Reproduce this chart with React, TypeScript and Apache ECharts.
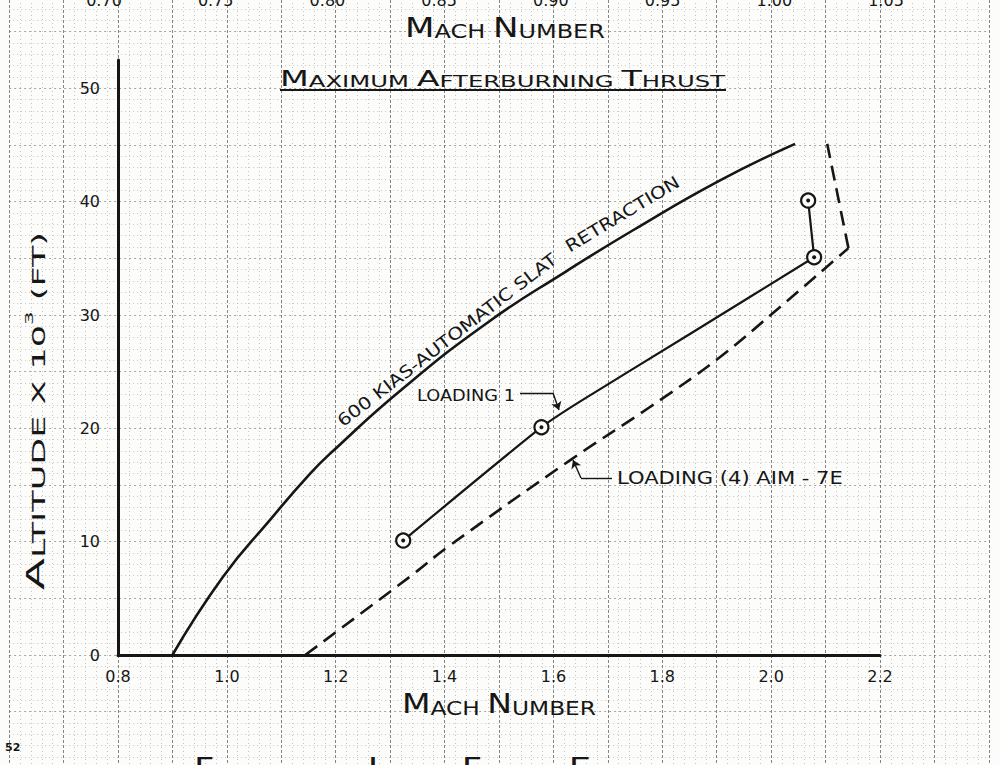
import React, { useEffect, useRef } from "react";
import * as echarts from "echarts";

// ---------- data ----------
const xTickLabels = ["0.8", "1.0", "1.2", "1.4", "1.6", "1.8", "2.0", "2.2"];
const yTickLabels = ["0", "10", "20", "30", "40", "50"];
const topTickLabels = ["0.70", "0.75", "0.80", "0.85", "0.90", "0.95", "1.00", "1.05"];

// 600 KIAS - automatic slat retraction (solid)
const kiasMach = [0.9, 0.993, 1.079, 1.153, 1.195, 1.318, 1.478, 1.625, 1.747, 1.907, 2.044];
const kiasAlt = [0, 6.9, 11.9, 16.0, 18.0, 23.3, 29.3, 33.9, 37.5, 41.9, 45.1];

// Loading 1 (solid with test points)
const load1Mach = [1.324, 1.578, 1.65, 1.85, 2.079];
const load1Alt = [10.1, 20.1, 22.4, 28.3, 35.1];
const load1TopMach = [2.079, 2.068];
const load1TopAlt = [35.1, 40.1];
const load1PtMach = [1.324, 1.578, 2.079, 2.068];
const load1PtAlt = [10.1, 20.1, 35.1, 40.1];

// Loading (4) AIM-7E (dashed)
const aimMach = [1.144, 1.336, 1.405, 1.631, 1.778, 1.901, 2.004, 2.142];
const aimAlt = [0, 6.9, 9.5, 17.2, 21.9, 26.1, 30.2, 35.9];
const aimTopMach = [2.142, 2.103];
const aimTopAlt = [35.9, 45.1];

// leader lines (Mach, altitude)
const leader1Mach = [1.5386, 1.5992, 1.6102];
const leader1Alt = [23.12, 23.12, 21.62];
const leader2Mach = [1.7076, 1.6506, 1.636];
const leader2Alt = [15.62, 15.62, 17.2];

// annotation anchors (Mach, altitude)
const annoText = ["600 KIAS-AUTOMATIC SLAT", "RETRACTION", "LOADING 1", "LOADING (4) AIM - 7E"];
const annoMach = [1.4045, 1.7265, 1.4393, 1.9242];
const annoAlt = [27.8, 38.9, 22.94, 15.62];

const FONT = "DejaVu Sans";
const INK = "#161616";
const PAPER = "#fcfcfa";

const pairs = (xs: number[], ys: number[]) => xs.map((x, i) => [x, ys[i]]);

const measureCtx = document.createElement("canvas").getContext("2d") as CanvasRenderingContext2D;

type Seg = [string, string];

function richText(
  segs: Seg[],
  sizes: Record<string, number>,
  target: number,
  cx: number,
  cy: number,
  rotDeg = 0,
  z = 10
) {
  let natural = 0;
  for (const [t, k] of segs) {
    measureCtx.font = `${sizes[k]}px "${FONT}"`;
    natural += measureCtx.measureText(t).width;
  }
  const rich: Record<string, any> = {};
  for (const k of Object.keys(sizes)) {
    rich[k] = {
      fontSize: sizes[k],
      fontFamily: FONT,
      fill: INK,
      verticalAlign: k === "sup" ? "top" : "bottom",
    };
  }
  return {
    type: "text",
    x: cx,
    y: cy,
    rotation: (rotDeg * Math.PI) / 180,
    scaleX: target / natural,
    silent: true,
    z,
    style: {
      text: segs.map(([t, k]) => `{${k}|${t}}`).join(""),
      rich,
      align: "center",
      verticalAlign: "middle",
      fill: INK,
      fontFamily: FONT,
    },
  };
}

export default function App() {
  const ref = useRef<HTMLDivElement>(null);

  useEffect(() => {
    const chart = echarts.init(ref.current as HTMLDivElement, null, { renderer: "svg" });

    const labelStyle = { fontSize: 16, color: INK, fontFamily: FONT };

    const option: any = {
      animation: false,
      backgroundColor: PAPER,
      grid: [
        { left: 118, right: 120, top: 60, bottom: 110, outerBoundsMode: "none", containLabel: false },
        { left: 9.14, right: 11.14, top: -25, bottom: -3.3, outerBoundsMode: "none", containLabel: false },
        { left: 104, right: 114, top: -100, bottom: 781, outerBoundsMode: "none", containLabel: false },
      ],
      xAxis: [
        {
          gridIndex: 0,
          type: "value",
          min: 0.8,
          max: 2.2,
          interval: 0.2,
          axisLine: { show: true, lineStyle: { color: INK, width: 3 } },
          axisTick: { show: false },
          splitLine: { show: false },
          axisLabel: {
            ...labelStyle,
            margin: 13,
            formatter: (v: number) => xTickLabels[Math.round((v - 0.8) / 0.2)] ?? "",
          },
        },
        {
          gridIndex: 1,
          type: "value",
          min: 0.6,
          max: 2.4,
          interval: 0.1,
          axisLine: { show: false },
          axisTick: { show: false },
          axisLabel: { show: false },
          splitLine: { show: true, lineStyle: { color: "#5e5e5e", width: 1, type: [3, 2], opacity: 0.75 } },
          minorTick: { show: false, splitNumber: 5 },
          minorSplitLine: { show: true, lineStyle: { color: "#b5b5b5", width: 1, type: [1, 3], opacity: 0.8 } },
        },
        {
          gridIndex: 2,
          type: "value",
          min: 0.7,
          max: 1.05,
          interval: 0.05,
          axisLine: { show: false },
          axisTick: { show: false },
          splitLine: { show: false },
          axisLabel: {
            ...labelStyle,
            margin: 8,
            formatter: (v: number) => topTickLabels[Math.round((v - 0.7) / 0.05)] ?? "",
          },
        },
      ],
      yAxis: [
        {
          gridIndex: 0,
          type: "value",
          min: 0,
          max: 52.5,
          interval: 10,
          axisLine: { show: true, lineStyle: { color: INK, width: 3 } },
          axisTick: { show: false },
          splitLine: { show: false },
          axisLabel: {
            ...labelStyle,
            margin: 18,
            showMaxLabel: false,
            formatter: (v: number) => (v % 10 === 0 ? yTickLabels[v / 10] ?? "" : ""),
          },
        },
        {
          gridIndex: 1,
          type: "value",
          min: -10,
          max: 60,
          interval: 5,
          axisLine: { show: false },
          axisTick: { show: false },
          axisLabel: { show: false },
          splitLine: { show: true, lineStyle: { color: "#808080", width: 1, type: [2, 3], opacity: 0.7 } },
          minorTick: { show: false, splitNumber: 5 },
          minorSplitLine: { show: true, lineStyle: { color: "#bdbdbd", width: 1, type: [1, 3], opacity: 0.8 } },
        },
        { gridIndex: 2, type: "value", show: false, min: 0, max: 1 },
      ],
      series: [
        {
          name: "600 KIAS",
          type: "line",
          xAxisIndex: 0,
          yAxisIndex: 0,
          smooth: 0.5,
          showSymbol: false,
          silent: true,
          lineStyle: { color: INK, width: 2.6 },
          data: pairs(kiasMach, kiasAlt),
          z: 4,
        },
        {
          name: "Loading 1",
          type: "line",
          xAxisIndex: 0,
          yAxisIndex: 0,
          smooth: 0.2,
          showSymbol: false,
          silent: true,
          lineStyle: { color: INK, width: 2.2 },
          data: pairs(load1Mach, load1Alt),
          z: 4,
          markLine: {
            silent: true,
            symbol: ["none", "none"],
            label: { show: false },
            lineStyle: { color: INK, width: 1.4, type: "solid" },
            data: [
              [
                { coord: [leader1Mach[0], leader1Alt[0]] },
                { coord: [leader1Mach[1], leader1Alt[1]] },
              ],
              [
                { coord: [leader1Mach[1], leader1Alt[1]] },
                { coord: [leader1Mach[2], leader1Alt[2]], symbol: "arrow", symbolSize: 8 },
              ],
              [
                { coord: [leader2Mach[0], leader2Alt[0]] },
                { coord: [leader2Mach[1], leader2Alt[1]] },
              ],
              [
                { coord: [leader2Mach[1], leader2Alt[1]] },
                { coord: [leader2Mach[2], leader2Alt[2]], symbol: "arrow", symbolSize: 8 },
              ],
            ],
          },
        },
        {
          name: "Loading 1 top",
          type: "line",
          xAxisIndex: 0,
          yAxisIndex: 0,
          showSymbol: false,
          silent: true,
          lineStyle: { color: INK, width: 2.2 },
          data: pairs(load1TopMach, load1TopAlt),
          z: 4,
        },
        {
          name: "AIM-7E",
          type: "line",
          xAxisIndex: 0,
          yAxisIndex: 0,
          smooth: 0.4,
          showSymbol: false,
          silent: true,
          lineStyle: { color: INK, width: 2.6, type: [15, 8] },
          data: pairs(aimMach, aimAlt),
          z: 4,
        },
        {
          name: "AIM-7E top",
          type: "line",
          xAxisIndex: 0,
          yAxisIndex: 0,
          showSymbol: false,
          silent: true,
          lineStyle: { color: INK, width: 2.6, type: [15, 8] },
          data: pairs(aimTopMach, aimTopAlt),
          z: 4,
        },
        {
          name: "points ring",
          type: "scatter",
          xAxisIndex: 0,
          yAxisIndex: 0,
          symbol: "circle",
          symbolSize: 14,
          silent: true,
          itemStyle: { color: PAPER, borderColor: INK, borderWidth: 2.2, opacity: 1 },
          data: pairs(load1PtMach, load1PtAlt),
          z: 6,
        },
        {
          name: "points dot",
          type: "scatter",
          xAxisIndex: 0,
          yAxisIndex: 0,
          symbol: "circle",
          symbolSize: 4,
          silent: true,
          itemStyle: { color: INK, opacity: 1 },
          data: pairs(load1PtMach, load1PtAlt),
          z: 7,
        },
      ],
    };

    chart.setOption(option);

    const px = (m: number, a: number) => chart.convertToPixel({ gridIndex: 0 }, [m, a]) as number[];
    const a0 = px(annoMach[0], annoAlt[0]);
    const a1 = px(annoMach[1], annoAlt[1]);
    const a2 = px(annoMach[2], annoAlt[2]);
    const a3 = px(annoMach[3], annoAlt[3]);

    const capsBig = { b: 27, s: 19 };
    const graphic: any[] = [
      // title
      richText(
        [
          ["M", "b"], ["AXIMUM ", "s"], ["A", "b"], ["FTERBURNING ", "s"], ["T", "b"], ["HRUST", "s"],
        ],
        { b: 22, s: 16 },
        445,
        502.5,
        79
      ),
      {
        type: "line",
        silent: true,
        z: 10,
        shape: { x1: 280, y1: 90, x2: 726, y2: 90 },
        style: { stroke: INK, lineWidth: 2 },
      },
      // x axis name (bottom)
      richText([["M", "b"], ["ACH ", "s"], ["N", "b"], ["UMBER", "s"]], capsBig, 194, 499, 704),
      // x axis name of upper chart (top)
      richText([["M", "b"], ["ACH ", "s"], ["N", "b"], ["UMBER", "s"]], capsBig, 200, 505, 27),
      // y axis name
      richText(
        [
          ["A", "b"], ["LTITUDE ", "s"], ["X ", "s"], ["10", "s"], ["3", "sup"], [" (FT)", "s"],
        ],
        { b: 24, s: 18, sup: 11 },
        358,
        36,
        411,
        90
      ),
      // caption at bottom
      richText(
        [
          ["F", "b"], ["LIGHT ", "s"], ["35    ", "s"], ["L", "b"], ["EVEL ", "s"], ["F", "b"], ["LIGHT ", "s"],
          ["E", "b"], ["NVELOPE", "s"],
        ],
        { b: 27, s: 20 },
        518,
        453,
        768
      ),
      // page number
      {
        type: "text",
        x: 5,
        y: 742,
        silent: true,
        z: 10,
        style: { text: "52", fontSize: 11, fontWeight: "bold", fontFamily: FONT, fill: INK },
      },
      // curve annotations
      richText([[annoText[0], "s"]], { s: 17 }, 272, a0[0], a0[1], 37.6),
      richText([[annoText[1], "s"]], { s: 17 }, 130, a1[0], a1[1], 31),
      richText([[annoText[2], "s"]], { s: 16 }, 98, a2[0], a2[1], 0),
      richText([[annoText[3], "s"]], { s: 17 }, 226, a3[0], a3[1], 0),
    ];

    chart.setOption({ graphic });

    return () => chart.dispose();
  }, []);

  return (
    <div
      ref={ref}
      style={{ position: "fixed", left: 0, top: 0, width: 1000, height: 765 }}
    />
  );
}
